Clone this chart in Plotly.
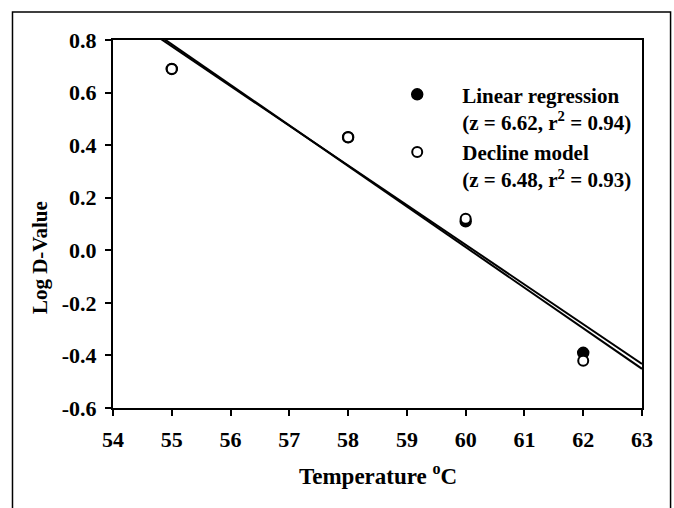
import plotly.graph_objects as go

# Data
temps = [55, 58, 60, 62]
linear_logd = [0.69, 0.43, 0.11, -0.39]
decline_logd = [0.69, 0.43, 0.12, -0.42]

line_x = [54, 63]
linear_line_y = [0.927, -0.432]
decline_line_y = [0.938, -0.451]

x_ticks = [54, 55, 56, 57, 58, 59, 60, 61, 62, 63]
y_ticks = [-0.6, -0.4, -0.2, 0.0, 0.2, 0.4, 0.6, 0.8]

FONT = "Liberation Serif"

fig = go.Figure()

fig.add_trace(go.Scatter(x=line_x, y=linear_line_y, mode="lines",
                         line=dict(color="black", width=2), showlegend=False,
                         hoverinfo="skip"))
fig.add_trace(go.Scatter(x=line_x, y=decline_line_y, mode="lines",
                         line=dict(color="black", width=2), showlegend=False,
                         hoverinfo="skip"))

fig.add_trace(go.Scatter(
    x=temps, y=linear_logd, mode="markers",
    name="Linear regression<br>(z = 6.62, r<sup>2</sup> = 0.94)",
    marker=dict(symbol="circle", size=11, color="black",
                line=dict(color="black", width=1.5))))
fig.add_trace(go.Scatter(
    x=temps, y=decline_logd, mode="markers",
    name="Decline model<br>(z = 6.48, r<sup>2</sup> = 0.93)",
    marker=dict(symbol="circle", size=10, color="white",
                line=dict(color="black", width=2))))

axis_common = dict(
    showgrid=False, zeroline=False, showline=True, linecolor="black",
    linewidth=2, mirror=True, ticks="outside", ticklen=6, tickwidth=1.5,
    tickcolor="black",
    tickfont=dict(family=FONT, size=22, color="black", weight="bold"),
)

fig.update_xaxes(range=[54, 63], tickvals=x_ticks,
                 ticktext=[str(t) for t in x_ticks],
                 ticklabelstandoff=5, **axis_common)
fig.update_yaxes(range=[-0.6, 0.8], tickvals=y_ticks,
                 ticktext=[f"{t:.1f}" for t in y_ticks],
                 ticklabelstandoff=4, **axis_common)

fig.update_layout(
    width=674, height=508,
    margin=dict(l=113, r=32, t=40, b=100),
    paper_bgcolor="white", plot_bgcolor="white",
    font=dict(family=FONT, color="black", weight="bold"),
    showlegend=True,
    legend=dict(x=0.49, y=0.907, xanchor="left", yanchor="top",
                valign="top", itemwidth=80, bgcolor="rgba(0,0,0,0)",
                font=dict(family=FONT, size=21, color="black", weight="bold"),
                tracegroupgap=0),
    annotations=[
        dict(text="Temperature <sup>o</sup>C", xref="paper", yref="paper",
             x=0.5, y=-0.182, xanchor="center", yanchor="middle",
             showarrow=False,
             font=dict(family=FONT, size=23, color="black", weight="bold")),
        dict(text="Log D-Value", xref="paper", yref="paper",
             x=-0.138, y=0.41, xanchor="center", yanchor="middle",
             textangle=-90, showarrow=False,
             font=dict(family=FONT, size=21, color="black", weight="bold")),
    ],
    shapes=[
        dict(type="rect", xref="paper", yref="paper",
             x0=-0.19, x1=1.054, y0=-0.35, y1=1.076,
             line=dict(color="black", width=1.5), fillcolor="rgba(0,0,0,0)",
             layer="below"),
    ],
)

fig.write_html(
    "out.html",
    config={"displayModeBar": False},
    post_script="document.body.style.margin='0';document.body.style.overflow='hidden';",
)
